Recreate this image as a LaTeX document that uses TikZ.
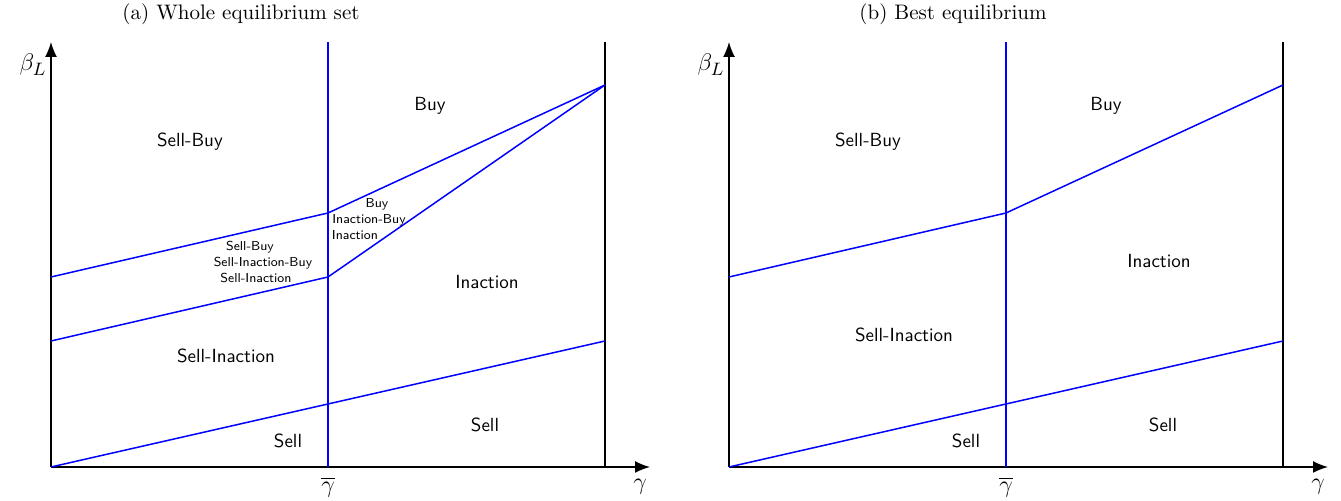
\documentclass[tikz,border=0pt]{standalone}
\usepackage{amsmath,amssymb}
\usepackage{tikz}
\usetikzlibrary{calc,arrows.meta,positioning}

\tikzset{
  axis/.style={line width=0.75pt},
  bound/.style={blue, line width=0.75pt},
  region/.style={font=\sffamily\fontsize{9.5}{11}\selectfont},
  tiny region/.style={font=\sffamily\fontsize{6.5}{8}\selectfont},
  caption/.style={font=\fontsize{10.5}{12}\selectfont},
  axlabel/.style={font=\fontsize{13}{15}\selectfont}
}

\begin{document}
\begin{tikzpicture}[x=0.5pt, y=0.5pt, >={Latex[length=7.5pt,width=6pt]}]
	\useasboundingbox (0,0) rectangle (1341,501);

	% (a) whole equilibrium set
	\coordinate (origin) at (51, 34);
	\coordinate (top) at ($(origin) + (0, 425)$);
	\coordinate (right) at ($(origin) + (599, 0)$);
	\coordinate (gbarbot) at ($(origin) + (277, 0)$);
	\coordinate (gbartop) at ($(origin) + (277, 425)$);
	\coordinate (gmaxbot) at ($(origin) + (554, 0)$);
	\coordinate (gmaxtop) at ($(origin) + (554, 425)$);
	\coordinate (buyl) at ($(origin) + (0, 190)$);
	\coordinate (buym) at ($(origin) + (277, 254)$);
	\coordinate (corner) at ($(origin) + (554, 382)$);
	\coordinate (inactl) at ($(origin) + (0, 126)$);
	\coordinate (inactm) at ($(origin) + (277, 190)$);
	\coordinate (sellr) at ($(origin) + (554, 126)$);

	\draw [axis, ->] (origin) -- (top);
	\draw [axis, ->] (origin) -- (right);
	\draw [axis] (gmaxbot) -- (gmaxtop);
	\draw [bound] (gbarbot) -- (gbartop);
	\draw [bound] (buyl) -- (buym) -- (corner);
	\draw [bound] (inactl) -- (inactm) -- (corner);
	\draw [bound] (origin) -- (sellr);

	\node (titlea) [caption] at ($(origin) + (190, 453)$) {(a) Whole equilibrium set};
	\node (betaa) [axlabel] at ($(origin) + (-18, 402)$) {$\beta_L$};
	\node (gbara) [axlabel] at ($(origin) + (277, -20)$) {$\overline{\gamma}$};
	\node (gammaa) [axlabel] at ($(origin) + (589, -20)$) {$\gamma$};

	\node (sbuya) [region] at ($(origin) + (139, 325)$) {Sell-Buy};
	\node (buya) [region] at ($(origin) + (379, 361)$) {Buy};
	\node (tbuy) [tiny region] at ($(origin) + (326, 263)$) {Buy};
	\node (tinbuy) [tiny region] at ($(origin) + (318, 247)$) {Inaction-Buy};
	\node (tin) [tiny region] at ($(origin) + (304, 232)$) {Inaction};
	\node (tsbuy) [tiny region] at ($(origin) + (199, 220)$) {Sell-Buy};
	\node (tsinbuy) [tiny region] at ($(origin) + (212, 204)$) {Sell-Inaction-Buy};
	\node (tsin) [tiny region] at ($(origin) + (205, 189)$) {Sell-Inaction};
	\node (ina) [region] at ($(origin) + (436, 185)$) {Inaction};
	\node (sina) [region] at ($(origin) + (175, 111)$) {Sell-Inaction};
	\node (sella) [region] at ($(origin) + (237, 26)$) {Sell};
	\node (sellb) [region] at ($(origin) + (434, 42)$) {Sell};

	% (b) best equilibrium
	\coordinate (borigin) at (729, 34);
	\coordinate (btop) at ($(borigin) + (0, 425)$);
	\coordinate (bright) at ($(borigin) + (599, 0)$);
	\coordinate (bgbarbot) at ($(borigin) + (277, 0)$);
	\coordinate (bgbartop) at ($(borigin) + (277, 425)$);
	\coordinate (bgmaxbot) at ($(borigin) + (554, 0)$);
	\coordinate (bgmaxtop) at ($(borigin) + (554, 425)$);
	\coordinate (bbuyl) at ($(borigin) + (0, 190)$);
	\coordinate (bbuym) at ($(borigin) + (277, 254)$);
	\coordinate (bcorner) at ($(borigin) + (554, 382)$);
	\coordinate (bsellr) at ($(borigin) + (554, 126)$);

	\draw [axis, ->] (borigin) -- (btop);
	\draw [axis, ->] (borigin) -- (bright);
	\draw [axis] (bgmaxbot) -- (bgmaxtop);
	\draw [bound] (bgbarbot) -- (bgbartop);
	\draw [bound] (bbuyl) -- (bbuym) -- (bcorner);
	\draw [bound] (borigin) -- (bsellr);

	\node (titleb) [caption] at ($(borigin) + (224, 453)$) {(b) Best equilibrium};
	\node (betab) [axlabel] at ($(borigin) + (-18, 402)$) {$\beta_L$};
	\node (gbarb) [axlabel] at ($(borigin) + (277, -20)$) {$\overline{\gamma}$};
	\node (gammab) [axlabel] at ($(borigin) + (589, -20)$) {$\gamma$};

	\node (sbuyb) [region] at ($(borigin) + (139, 325)$) {Sell-Buy};
	\node (buyb) [region] at ($(borigin) + (377, 361)$) {Buy};
	\node (inb) [region] at ($(borigin) + (430, 206)$) {Inaction};
	\node (sinb) [region] at ($(borigin) + (175, 132)$) {Sell-Inaction};
	\node (sellc) [region] at ($(borigin) + (237, 26)$) {Sell};
	\node (selld) [region] at ($(borigin) + (434, 42)$) {Sell};
\end{tikzpicture}
\end{document}
